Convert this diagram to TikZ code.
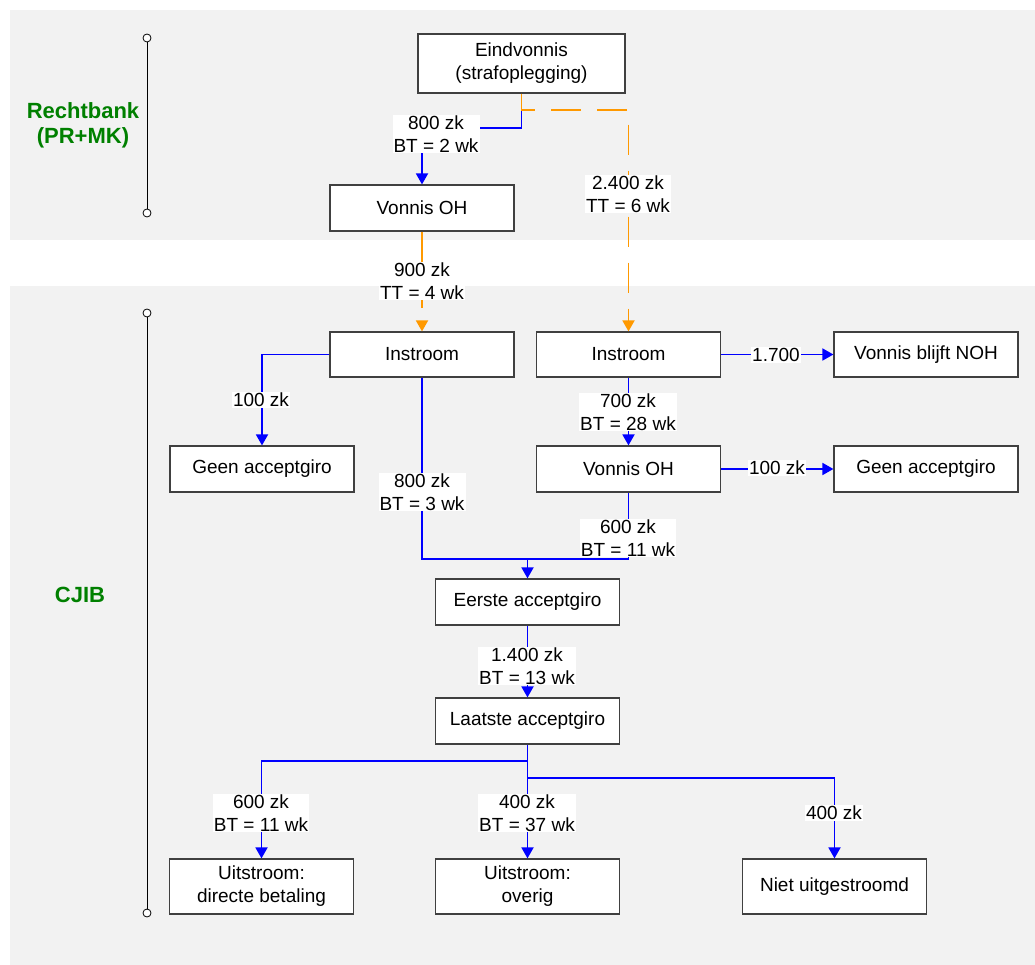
\documentclass[tikz,border=0pt]{standalone}
\usepackage{fontspec}
\setmainfont{Liberation Sans}
\usetikzlibrary{arrows.meta}
\definecolor{bandgray}{RGB}{242,242,242}
\definecolor{boxline}{RGB}{64,64,64}
\definecolor{flowblue}{RGB}{0,0,255}
\definecolor{floworange}{RGB}{255,153,0}
\definecolor{lanegreen}{RGB}{0,128,0}
\begin{document}
\begin{tikzpicture}[x=1pt,y=-1pt,
 box/.style={draw=boxline, line width=1.2pt, fill=white, inner sep=0pt, align=center, minimum width=184pt, minimum height=46pt, font=\fontsize{19}{23}\selectfont},
 lbl/.style={fill=white, inner sep=1pt, align=center, font=\fontsize{19}{23}\selectfont},
 bflow/.style={draw=flowblue, line width=1.8pt},
 oflow/.style={draw=floworange, line width=1.8pt, dash pattern=on 30pt off 16pt},
 arr/.style={-{Triangle[length=11pt,width=12pt]}},
 lane/.style={font=\bfseries\fontsize{22}{25}\selectfont, text=lanegreen, align=center},
 endpt/.style={circle, draw=black, fill=white, line width=0.8pt, inner sep=0pt, minimum size=8pt},
 ]
\useasboundingbox (0,0) rectangle (1035,965);
\fill[bandgray] (10,10) rectangle (1035,240);
\fill[bandgray] (10,286) rectangle (1035,965);

% lanes
\node[endpt] (rt) at (147,38) {};
\node[endpt] (rb) at (147,213) {};
\draw[line width=1pt] (rt) -- (rb);
\node[endpt] (ct) at (147,313) {};
\node[endpt] (cb) at (147,913) {};
\draw[line width=1pt] (ct) -- (cb);
\node[lane] (rlab) at (83,125) {Rechtbank\\(PR+MK)};
\node[lane] (clab) at (80,595) {CJIB};

% boxes
\node[box, minimum width=207pt, minimum height=59pt] (ev) at (521.5,63.5) {Eindvonnis\\(strafoplegging)};
\node[box] (voh1) at (422,208) {Vonnis OH};
\node[box, minimum height=45pt] (inL) at (422,354.5) {Instroom};
\node[box] (geenL) at (262,469) {Geen acceptgiro};
\node[box, minimum height=45pt] (inR) at (628.5,354.5) {Instroom};
\node[box, minimum height=45pt] (noh) at (926,354.5) {Vonnis blijft NOH};
\node[box] (vohR) at (628.5,469) {Vonnis OH};
\node[box] (geenR) at (926,469) {Geen acceptgiro};
\node[box] (eerste) at (527.5,602) {Eerste acceptgiro};
\node[box] (laat) at (527.5,721) {Laatste acceptgiro};
\node[box, minimum height=55pt] (ud) at (261.5,886.5) {Uitstroom:\\directe betaling};
\node[box, minimum height=55pt] (uo) at (527.5,886.5) {Uitstroom:\\overig};
\node[box, minimum height=55pt] (nu) at (834.5,886.5) {Niet uitgestroomd};

% helper coordinates
\coordinate (evfork) at (521.5,110);
\coordinate (evbend) at (521.5,128);
\coordinate (merge) at (527.5,559);
\coordinate (split1) at (527.5,761);
\coordinate (split2) at (527.5,778);

% blue flows
\draw[bflow, arr] (evfork) -- (evbend) -| (voh1.north);
\draw[bflow, arr] (inL.west) -| (geenL.north);
\draw[bflow] (inL.south) |- (merge);
\draw[bflow] (vohR.south) |- (merge);
\draw[bflow, arr] (merge) -- (eerste.north);
\draw[bflow, arr] (inR.south) -- (vohR.north);
\draw[bflow, arr] (inR.east) -- (noh.west);
\draw[bflow, arr] (vohR.east) -- (geenR.west);
\draw[bflow, arr] (eerste.south) -- (laat.north);
\draw[bflow, arr] (laat.south) -- (split1) -| (ud.north);
\draw[bflow, arr] (split1) -- (uo.north);
\draw[bflow, arr] (split2) -| (nu.north);

% orange flows
\draw[oflow, arr] (ev.south) -- (evfork) -| (inR.north);
\draw[oflow, arr] (voh1.south) -- (inL.north);

% labels
\node[lbl] (l1) at (436,134) {800 zk\\BT = 2 wk};
\node[lbl] (l2) at (628,194) {2.400 zk\\TT = 6 wk};
\node[lbl] (l3) at (422,281) {900 zk\\TT = 4 wk};
\node[lbl] (l4) at (261,400) {100 zk};
\node[lbl] (l5) at (422,492) {800 zk\\BT = 3 wk};
\node[lbl] (l6) at (628,412) {700 zk\\BT = 28 wk};
\node[lbl] (l7) at (776,355) {1.700};
\node[lbl] (l8) at (777,468) {100 zk};
\node[lbl] (l9) at (628,538) {600 zk\\BT = 11 wk};
\node[lbl] (l10) at (527,666) {1.400 zk\\BT = 13 wk};
\node[lbl] (l11) at (261,813) {600 zk\\BT = 11 wk};
\node[lbl] (l12) at (527,813) {400 zk\\BT = 37 wk};
\node[lbl] (l13) at (834,813) {400 zk};
\end{tikzpicture}
\end{document}
